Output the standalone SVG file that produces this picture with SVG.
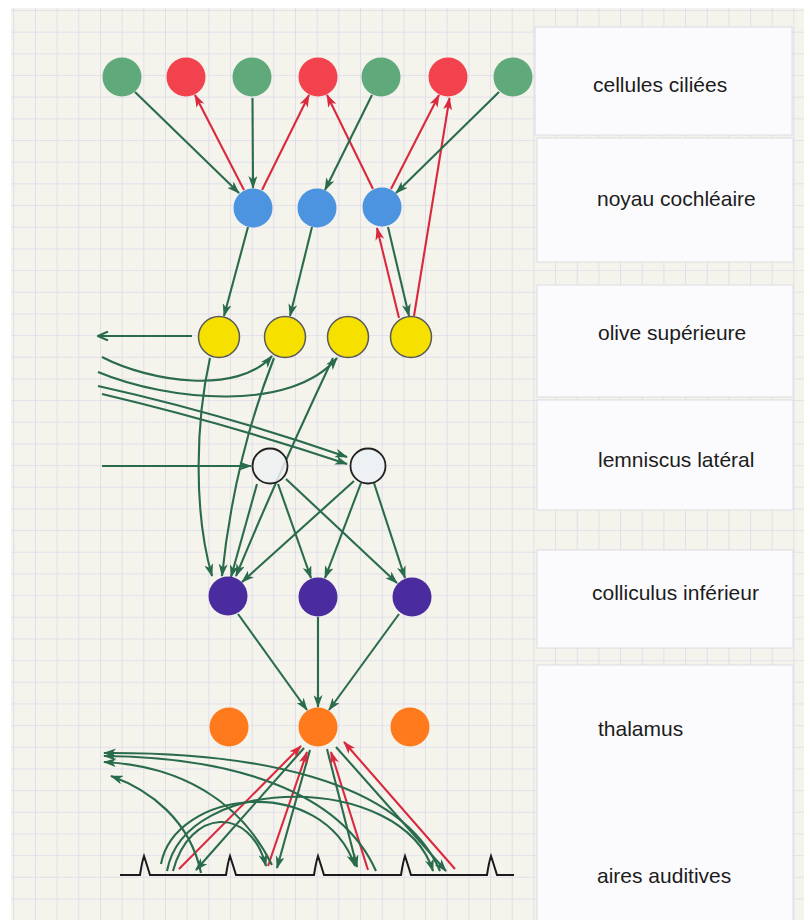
<svg xmlns="http://www.w3.org/2000/svg" width="804" height="920" viewBox="0 0 804 920">
<defs>
  <pattern id="grid" patternUnits="userSpaceOnUse" x="13.3" y="10" width="21.67" height="21.67">
    <path d="M0,0 H21.67 M0,0 V21.67" fill="none" stroke="#d4d0ea" stroke-width="1.2"/>
  </pattern>
  <marker id="ag" viewBox="0 0 13 9" refX="12" refY="4.5" markerWidth="13" markerHeight="9" markerUnits="userSpaceOnUse" orient="auto">
    <path d="M0,0 L13,4.5 L0,9 L3.5,4.5 z" fill="#2a6b4c"/>
  </marker>
  <marker id="ar" viewBox="0 0 13 9" refX="12" refY="4.5" markerWidth="13" markerHeight="9" markerUnits="userSpaceOnUse" orient="auto">
    <path d="M0,0 L13,4.5 L0,9 L3.5,4.5 z" fill="#d9293d"/>
  </marker>
  <marker id="ao" viewBox="0 0 12 10" refX="11" refY="5" markerWidth="12" markerHeight="10" markerUnits="userSpaceOnUse" orient="auto">
    <path d="M1,0.5 L11,5 L1,9.5" fill="none" stroke="#2a6b4c" stroke-width="2"/>
  </marker>
</defs>
<style>
  .g{fill:none;stroke:#2a6b4c;stroke-width:2.1;marker-end:url(#ag)}
  .go{fill:none;stroke:#2a6b4c;stroke-width:2.1;marker-end:url(#ao)}
  .r{fill:none;stroke:#d9293d;stroke-width:2.1;marker-end:url(#ar)}
  .box{fill:#fbfbfd;stroke:#dcdce2;stroke-width:1}
  .lbl{font-family:"Liberation Sans",Arial,sans-serif;font-size:21px;fill:#1c1c1c}
  .hair{fill:#5fa97a}
  .out{fill:#f2424d}
  .coch{fill:#4c93e0}
  .olive{fill:#f6e000;stroke:#5a5a5a;stroke-width:1.5}
  .lem{fill:#eef1f3;stroke:#222;stroke-width:1.8}
  .coll{fill:#4b2c9f}
  .thal{fill:#ff7a1c}
</style>
<rect x="0" y="0" width="804" height="920" fill="#ffffff"/>
<rect x="11" y="8" width="793" height="912" fill="#f4f3ec"/>
<rect x="11" y="8" width="793" height="912" fill="url(#grid)"/>

<g id="labels">
  <g id="label-cellules"><rect class="box" x="535" y="27" width="257" height="108"/><text class="lbl" x="593" y="92">cellules ciliées</text></g>
  <g id="label-noyau"><rect class="box" x="537" y="138" width="256" height="124"/><text class="lbl" x="597" y="206">noyau cochléaire</text></g>
  <g id="label-olive"><rect class="box" x="537" y="285" width="256" height="112"/><text class="lbl" x="598" y="340">olive supérieure</text></g>
  <g id="label-lemniscus"><rect class="box" x="537" y="400" width="256" height="110"/><text class="lbl" x="598" y="467">lemniscus latéral</text></g>
  <g id="label-colliculus"><rect class="box" x="537" y="550" width="256" height="98"/><text class="lbl" x="592" y="600">colliculus inférieur</text></g>
  <g id="label-thalamus-aires"><rect class="box" x="537" y="665" width="256" height="260"/><text class="lbl" x="598" y="736">thalamus</text><text class="lbl" x="597" y="883">aires auditives</text></g>
</g>

<g id="connectors">
  <!-- hair cells <-> cochlear nucleus -->
  <path class="g" d="M135,92 L239,193"/>
  <path class="r" d="M244,190 L195,95"/>
  <path class="g" d="M252.5,98 L253,188"/>
  <path class="r" d="M262,190 L309,95"/>
  <path class="r" d="M373,189 L327,95"/>
  <path class="g" d="M372,95 L325,190"/>
  <path class="r" d="M391,189 L439,95"/>
  <path class="r" d="M414,316 L449.5,98"/>
  <path class="g" d="M499,92 L396,193"/>
  <!-- cochlear nucleus -> olive -->
  <path class="g" d="M248,227 L224,316"/>
  <path class="g" d="M312,227 L290,316"/>
  <path class="r" d="M399,318 L377,228"/>
  <path class="g" d="M388,227 L409,316"/>
  <!-- olive level -->
  <path class="go" d="M192,336 L98,336"/>
  <path class="g" d="M102,357 C150,382 238,395 272,356"/>
  <path class="g" d="M98,372 C170,402 292,412 337,358"/>
  <path class="g" d="M98,386 Q220,413 347,457"/>
  <path class="g" d="M102,394 Q225,423 347,464"/>
  <path class="g" d="M102,466 L251,466"/>
  <!-- olive -> colliculus -->
  <path class="g" d="M210,358 C196,420 193,510 212,576"/>
  <path class="g" d="M274,358 Q234,460 222,576"/>
  <path class="g" d="M333,358 Q280,470 236,576"/>
  <!-- lemniscus -> colliculus -->
  <path class="g" d="M257,484 L231,577"/>
  <path class="g" d="M278,484 L311,578"/>
  <path class="g" d="M286,479 L397,583"/>
  <path class="g" d="M354,481 L242,582"/>
  <path class="g" d="M361,483 L325,578"/>
  <path class="g" d="M374,483 L405,578"/>
  <!-- colliculus -> thalamus -->
  <path class="g" d="M238,614 L307,710"/>
  <path class="g" d="M318,617 L318,707"/>
  <path class="g" d="M399,614 L329,710"/>
  <!-- thalamus <-> cortex -->
  <path class="g" d="M304,748 L196,870"/>
  <path class="g" d="M310,750 L277,868"/>
  <path class="g" d="M327,749 L357,867"/>
  <path class="g" d="M336,747 L446,871"/>
  <path class="r" d="M179,869 L301,746"/>
  <path class="r" d="M268,866 L307,752"/>
  <path class="r" d="M368,870 L331,752"/>
  <path class="r" d="M455,869 L344,742"/>
  <!-- cortex arcs -->
  <path class="g" d="M161,864 C175,790 322,772 355,866"/>
  <path class="g" d="M167,871 C185,772 402,772 433,871"/>
  <path class="g" d="M173,871 C190,808 250,805 266,866"/>
  <!-- cortex -> other side -->
  <path class="g" d="M201,873 C190,820 150,790 111,776"/>
  <path class="g" d="M272,865 C240,800 180,766 104,762"/>
  <path class="g" d="M376,871 C340,790 230,757 104,756"/>
  <path class="g" d="M440,871 C400,778 250,752 104,753"/>
</g>

<g id="cellules-ciliees">
  <circle id="cc1" class="hair" cx="122" cy="77" r="19.5"/>
  <circle id="cc2" class="out" cx="186" cy="77" r="19.5"/>
  <circle id="cc3" class="hair" cx="252" cy="77" r="19.5"/>
  <circle id="cc4" class="out" cx="318" cy="77" r="19.5"/>
  <circle id="cc5" class="hair" cx="381" cy="77" r="19.5"/>
  <circle id="cc6" class="out" cx="448" cy="77" r="19.5"/>
  <circle id="cc7" class="hair" cx="513" cy="77" r="19.5"/>
</g>
<g id="noyau-cochleaire">
  <circle id="nc1" class="coch" cx="253" cy="208" r="19.5"/>
  <circle id="nc2" class="coch" cx="317" cy="208" r="19.5"/>
  <circle id="nc3" class="coch" cx="382" cy="207" r="19.5"/>
</g>
<g id="olive-superieure">
  <circle id="os1" class="olive" cx="219" cy="337" r="20.5"/>
  <circle id="os2" class="olive" cx="285" cy="337" r="20.5"/>
  <circle id="os3" class="olive" cx="348" cy="337" r="20.5"/>
  <circle id="os4" class="olive" cx="411" cy="337" r="20.5"/>
</g>
<g id="lemniscus-lateral">
  <circle id="ll1" class="lem" cx="270" cy="466" r="17.5" fill-opacity="0.85"/>
  <circle id="ll2" class="lem" cx="368" cy="466" r="17.5"/>
</g>
<g id="colliculus-inferieur">
  <circle id="ci1" class="coll" cx="228" cy="596" r="19.5"/>
  <circle id="ci2" class="coll" cx="318" cy="597" r="19.5"/>
  <circle id="ci3" class="coll" cx="412" cy="597" r="19.5"/>
</g>
<g id="thalamus">
  <circle id="th1" class="thal" cx="229" cy="727" r="19.5"/>
  <circle id="th2" class="thal" cx="318" cy="727" r="19.5"/>
  <circle id="th3" class="thal" cx="410" cy="727" r="19.5"/>
</g>
<g id="aires-auditives">
  <path d="M120,875 H140 Q142,862 144,856 Q146,862 150,875 H226 Q228,862 230,856 Q232,862 236,875 H314 Q316,862 318,856 Q320,862 324,875 H401 Q403,862 405,856 Q407,862 411,875 H487 Q489,862 491,856 Q493,862 497,875 H514" fill="none" stroke="#1a1a1a" stroke-width="2"/>
</g>
</svg>
